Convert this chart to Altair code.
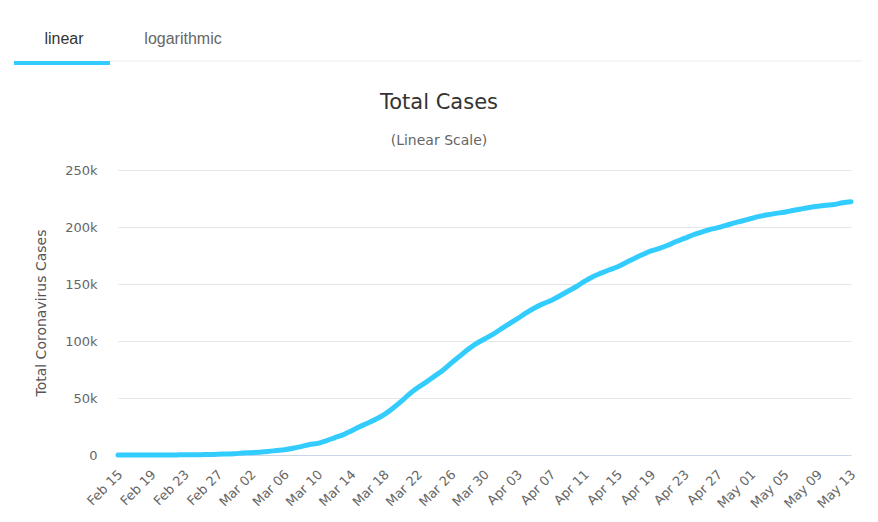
import altair as alt
import pandas as pd

# ---- data -------------------------------------------------------------
start_date = "2020-02-15"
cases = [3, 3, 3, 3, 3, 3, 20, 79, 157, 229, 323, 470, 655, 889, 1128,
         1694, 2036, 2502, 3089, 3858, 4636, 5883, 7375, 9172, 10149,
         12462, 15113, 17660, 21157, 24747, 27980, 31506, 35713, 41035, 47021,
         53578, 59138, 63927, 69176, 74386, 80589, 86498, 92472, 97689, 101739,
         105792,
         110574, 115242, 119827, 124632, 128948, 132547, 135586, 139422, 143626, 147577,
         152271, 156363, 159516, 162488, 165155, 168941, 172434, 175925, 178972, 181228,
         183957, 187327, 189973, 192994, 195351, 197675, 199414, 201505, 203591, 205463,
         207428, 209328, 210717, 211938, 213013, 214457, 215858, 217185, 218268, 219070,
         219814, 221216, 222104]
tick_dates = [(2, 15), (2, 19), (2, 23), (2, 27), (3, 2), (3, 6), (3, 10), (3, 14),
              (3, 18), (3, 22), (3, 26), (3, 30), (4, 3), (4, 7), (4, 11), (4, 15),
              (4, 19), (4, 23), (4, 27), (5, 1), (5, 5), (5, 9), (5, 13)]
y_ticks = [0, 50000, 100000, 150000, 200000, 250000]
tab_labels = ["linear", "logarithmic"]
title_text = "Total Cases"
subtitle_text = "(Linear Scale)"

dates = pd.date_range(start_date, periods=len(cases), freq="D").strftime("%Y-%m-%d")
df = pd.DataFrame({"date": dates, "cases": cases})


def dt(m, d):
    return alt.DateTime(year=2020, month=m, date=d, utc=True)


FONT = "DejaVu Sans"

line = alt.Chart(df).mark_line(
    color="#33ccff", strokeWidth=5, interpolate="monotone", strokeCap="round"
).encode(
    x=alt.X(
        "date:T",
        scale=alt.Scale(type="utc", domain=[dt(2, 15), dt(5, 13)], nice=False),
        axis=alt.Axis(
            values=[dt(m, d) for m, d in tick_dates],
            format="%b %d",
            labelAngle=-45,
            labelAlign="right",
            labelBaseline="middle",
            labelPadding=17,
            labelOffset=2,
            labelFont=FONT,
            labelFontSize=13,
            labelColor="#666666",
            labelOverlap=False,
            labelFlush=False,
            ticks=False,
            grid=False,
            domainColor="#ccd6eb",
            domainWidth=1,
            title=None,
        ),
    ),
    y=alt.Y(
        "cases:Q",
        scale=alt.Scale(domain=[0, 250000], nice=False),
        axis=alt.Axis(
            values=y_ticks,
            labelExpr="datum.value == 0 ? '0' : (datum.value / 1000) + 'k'",
            labelFont=FONT,
            labelFontSize=13,
            labelColor="#666666",
            labelPadding=21,
            ticks=False,
            domain=False,
            gridColor="#e6e6e6",
            gridWidth=1,
            title="Total Coronavirus Cases",
            titleFont=FONT,
            titleFontSize=14,
            titleFontWeight="normal",
            titleColor="#555555",
            titlePadding=16,
        ),
    ),
)

one = pd.DataFrame({"k": [0]})


def label(text, x, y, font, size, color):
    return alt.Chart(one).mark_text(
        font=font, fontSize=size, color=color, align="center", baseline="middle"
    ).encode(x=alt.value(x), y=alt.value(y), text=alt.value(text))


tab_active = label(tab_labels[0], -54, -131, "Liberation Sans", 16, "#333333")
tab_other = label(tab_labels[1], 65, -131, "Liberation Sans", 16, "#666666")
title = label(title_text, 321, -67, FONT, 21, "#333333")
subtitle = label(subtitle_text, 321, -29, FONT, 14, "#666666")

tab_rule = alt.Chart(one).mark_rule(color="#eeeeee", strokeWidth=1).encode(
    x=alt.value(-8), x2=alt.value(744), y=alt.value(-109)
)
tab_active_rule = alt.Chart(one).mark_rule(color="#33ccff", strokeWidth=4).encode(
    x=alt.value(-104), x2=alt.value(-8), y=alt.value(-107)
)

chart = alt.layer(
    tab_rule, tab_active_rule, tab_active, tab_other, title, subtitle, line
).properties(
    width=733,
    height=285,
    padding={"left": 110, "top": 162, "right": 12, "bottom": 62},
    autosize=alt.AutoSizeParams(type="none"),
    background="white",
).configure_view(strokeWidth=0)

chart.save("out.html", embed_options={"renderer": "svg", "actions": False})
